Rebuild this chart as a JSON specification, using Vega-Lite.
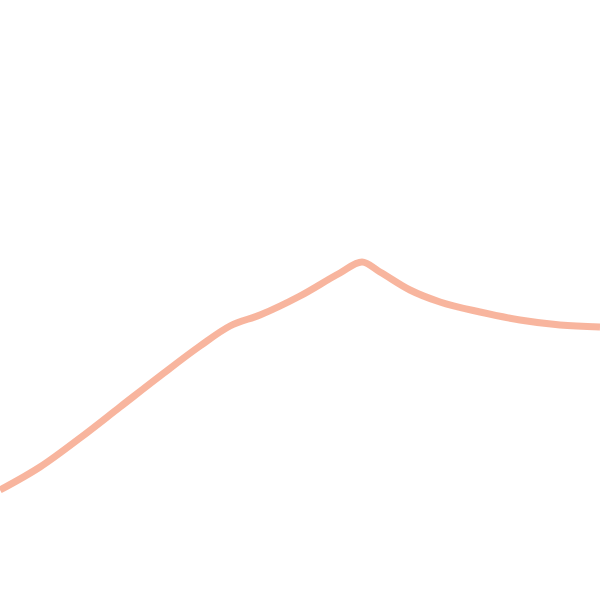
{
  "$schema": "https://vega.github.io/schema/vega-lite/v6.json",
  "width": 600,
  "height": 600,
  "autosize": {"type": "none"},
  "padding": 0,
  "config": {"view": {"stroke": null}},
  "data": {
    "values": [
      {"x": 0, "y": 110},
      {"x": 40, "y": 133},
      {"x": 80, "y": 162},
      {"x": 120, "y": 193},
      {"x": 160, "y": 224},
      {"x": 200, "y": 254},
      {"x": 230, "y": 274},
      {"x": 260, "y": 285},
      {"x": 300, "y": 304},
      {"x": 340, "y": 327},
      {"x": 362, "y": 338},
      {"x": 380, "y": 328},
      {"x": 410, "y": 310},
      {"x": 440, "y": 298},
      {"x": 480, "y": 288},
      {"x": 520, "y": 280},
      {"x": 560, "y": 275},
      {"x": 600, "y": 273}
    ]
  },
  "mark": {"type": "line", "color": "#f6a386", "strokeWidth": 7, "opacity": 0.8, "interpolate": "monotone"},
  "encoding": {
    "x": {"field": "x", "type": "quantitative", "axis": null, "scale": {"domain": [0, 600], "nice": false, "zero": false}},
    "y": {"field": "y", "type": "quantitative", "axis": null, "scale": {"domain": [0, 600], "nice": false, "zero": false}}
  }
}
